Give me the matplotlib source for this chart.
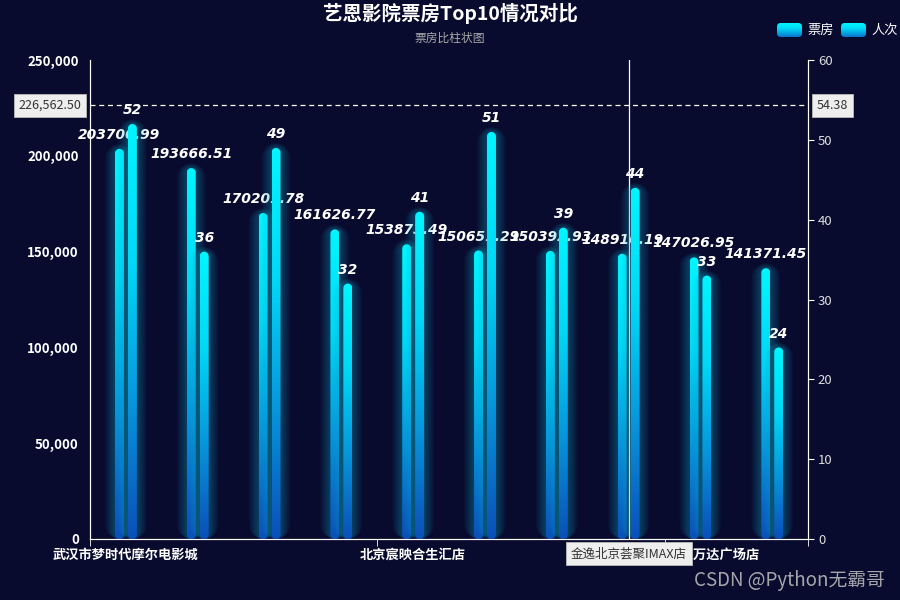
import numpy as np
import matplotlib
matplotlib.use('Agg')
import matplotlib.pyplot as plt
from matplotlib.path import Path
from matplotlib.patches import PathPatch, FancyBboxPatch
from matplotlib.colors import LinearSegmentedColormap
import matplotlib.transforms as mtransforms

plt.rcParams['font.family'] = ['Noto Sans CJK SC', 'DejaVu Sans']

# data
cinemas = ['武汉市梦时代摩尔电影城', '北京耀莱成龙国际影城', '上海影城SHO', '深圳百老汇影城',
           '北京宸映合生汇店', '广州飞扬影城', '成都太平洋影城', '金逸北京荟聚IMAX店',
           '北京通州万达广场店', '杭州万达广场店']
box_office = [203700.99, 193666.51, 170201.78, 161626.77, 153873.49,
              150651.29, 150392.93, 148916.19, 147026.95, 141371.45]
visits = [52, 36, 49, 32, 41, 51, 39, 44, 33, 24]
shown_labels = [0, 4, 8]
pointer_idx = 7
pointer_left = '226,562.50'
pointer_right = '54.38'
pointer_value = 226562.5

BG = '#080a2e'
cmap = LinearSegmentedColormap.from_list('bar', ['#0b4fb8', '#0796dc', '#00d8f6', '#00f6ff'])
grad = np.linspace(0, 1, 256).reshape(-1, 1)

fig = plt.figure(figsize=(9, 6), dpi=100, facecolor=BG)
ax = fig.add_axes([0.1, 0.1017, 0.798, 0.798])
ax.set_facecolor(BG)
ax2 = ax.twinx()

axw_px = 0.798 * 900
axh_px = 0.798 * 600
bw_px = 9
bw = bw_px / axw_px * 10
off = 0.09


def capsule(x, top, w, ry):
    # stadium shape: rounded at both ends
    rx = w / 2
    ry = min(ry, top / 2)
    t1 = np.linspace(np.pi, 0, 20)
    t2 = np.linspace(0, -np.pi, 20)
    up = np.column_stack([x + rx * np.cos(t1), top - ry + ry * np.sin(t1)])
    dn = np.column_stack([x + rx * np.cos(t2), ry + ry * np.sin(t2)])
    verts = np.vstack([up, dn, up[:1]])
    codes = [Path.MOVETO] + [Path.LINETO] * (len(verts) - 2) + [Path.CLOSEPOLY]
    return Path(verts, codes)


def draw_bars(a, xs, vals, ymax):
    ypp = ymax / axh_px
    for x, v in zip(xs, vals):
        # glow
        for k in range(1, 11):
            gw = bw + (2 * k) / axw_px * 10
            p = capsule(x, v + k * 0.5 * ypp, gw, (bw_px / 2 + k) * ypp)
            a.add_patch(PathPatch(p, facecolor='#14b0cc', edgecolor='none', alpha=0.04, zorder=2))
        p = capsule(x, v, bw, bw_px / 2 * ypp)
        patch = PathPatch(p, facecolor='none', edgecolor='none', zorder=3)
        a.add_patch(patch)
        im = a.imshow(grad, cmap=cmap, origin='lower', aspect='auto',
                      extent=[x - bw / 2, x + bw / 2, 0, v], zorder=3)
        im.set_clip_path(patch)


idx = np.arange(len(cinemas))
draw_bars(ax, idx - off, box_office, 250000)
draw_bars(ax2, idx + off, visits, 60)
ax.set_xlim(-0.5, 9.5)
ax.set_ylim(0, 250000)
ax2.set_xlim(-0.5, 9.5)
ax2.set_ylim(0, 60)

lab_font = dict(color='white', fontsize=10, fontweight='bold', fontstyle='italic',
                family=['DejaVu Sans'])
for x, v in zip(idx - off, box_office):
    ax.annotate(f'{v:.2f}', (x, v), xytext=(0, 5), textcoords='offset points',
                ha='center', va='bottom', zorder=6, **lab_font)
for x, v in zip(idx + off, visits):
    ax2.annotate(f'{v}', (x, v), xytext=(0, 5), textcoords='offset points',
                 ha='center', va='bottom', zorder=6, **lab_font)

# axes styling
for a in (ax, ax2):
    a.spines['top'].set_visible(False)
    a.spines['left'].set_color('white')
    a.spines['right'].set_color('white')
    a.spines['bottom'].set_color('white')
ax.set_yticks(np.arange(0, 250001, 50000))
ax.set_yticklabels([f'{v:,}' for v in range(0, 250001, 50000)],
                   color='white', fontweight='bold', fontsize=9.5)
ax.tick_params(axis='y', length=0, pad=8)
ax2.set_yticks(np.arange(0, 61, 10))
ax2.set_yticklabels([str(v) for v in range(0, 61, 10)], color='#dddddd', fontsize=9.5)
ax2.tick_params(axis='y', length=4, color='white', pad=3)

ax.set_xticks(shown_labels)
ax.set_xticklabels([cinemas[i] for i in shown_labels], color='white',
                   fontweight='bold', fontsize=9.5)
ax.tick_params(axis='x', length=0, pad=6)
ax.set_xticks([i - 0.5 for i in shown_labels] + [9.5], minor=True)
ax.tick_params(axis='x', which='minor', length=5, color='white')
ax2.tick_params(axis='x', length=0)

# axis pointer
ax.axhline(pointer_value, color='white', lw=0.9, ls=(0, (4, 3)), zorder=5)
ax.axvline(pointer_idx, color='white', lw=0.9, zorder=5)
box = dict(boxstyle='square,pad=0.4', facecolor='#eeeeee', edgecolor='#bbbbbb', lw=0.6)
ax.text(-0.012, pointer_value, pointer_left,
        transform=mtransforms.blended_transform_factory(ax.transAxes, ax.transData),
        ha='right', va='center', fontsize=9, color='#333333', bbox=box, zorder=7, clip_on=False)
ax2.text(1.012, pointer_value / 250000 * 60, pointer_right,
         transform=mtransforms.blended_transform_factory(ax2.transAxes, ax2.transData),
         ha='left', va='center', fontsize=9, color='#333333', bbox=box, zorder=7, clip_on=False)
ax2.text(pointer_idx, -0.031, cinemas[pointer_idx],
         transform=mtransforms.blended_transform_factory(ax2.transData, ax2.transAxes),
         ha='center', va='center', fontsize=9, color='#333333', bbox=box, zorder=10, clip_on=False)

# title
fig.text(0.5, 0.977, '艺恩影院票房Top10情况对比', ha='center', va='center',
         color='white', fontsize=14, fontweight='bold')
fig.text(0.5, 0.937, '票房比柱状图', ha='center', va='center', color='#aaaaaa', fontsize=8.5)

# legend
lg = np.linspace(0, 1, 64).reshape(-1, 1)
for lx, name in [(777, '票房'), (841, '人次')]:
    lax = fig.add_axes([lx / 900, 1 - 37 / 600, 25 / 900, 14 / 600])
    lax.axis('off')
    clip = FancyBboxPatch((0, 0), 1, 1, boxstyle='round,pad=0,rounding_size=0.15',
                          transform=lax.transAxes, facecolor='none', edgecolor='none',
                          mutation_aspect=25 / 14)
    lax.add_patch(clip)
    im = lax.imshow(lg, cmap=cmap, origin='lower', aspect='auto', extent=[0, 1, 0, 1],
                    vmin=-0.2, vmax=1)
    im.set_clip_path(clip)
    fig.text((lx + 30) / 900, 1 - 30 / 600, name, ha='left', va='center',
             color='white', fontsize=9.5)

# watermark
fig.text(0.983, 0.033, 'CSDN @Python无霸哥', ha='right', va='center',
         color='#b8b8b8', fontsize=13.5, alpha=0.9)

fig.savefig('out.png', dpi=100, facecolor=BG)
